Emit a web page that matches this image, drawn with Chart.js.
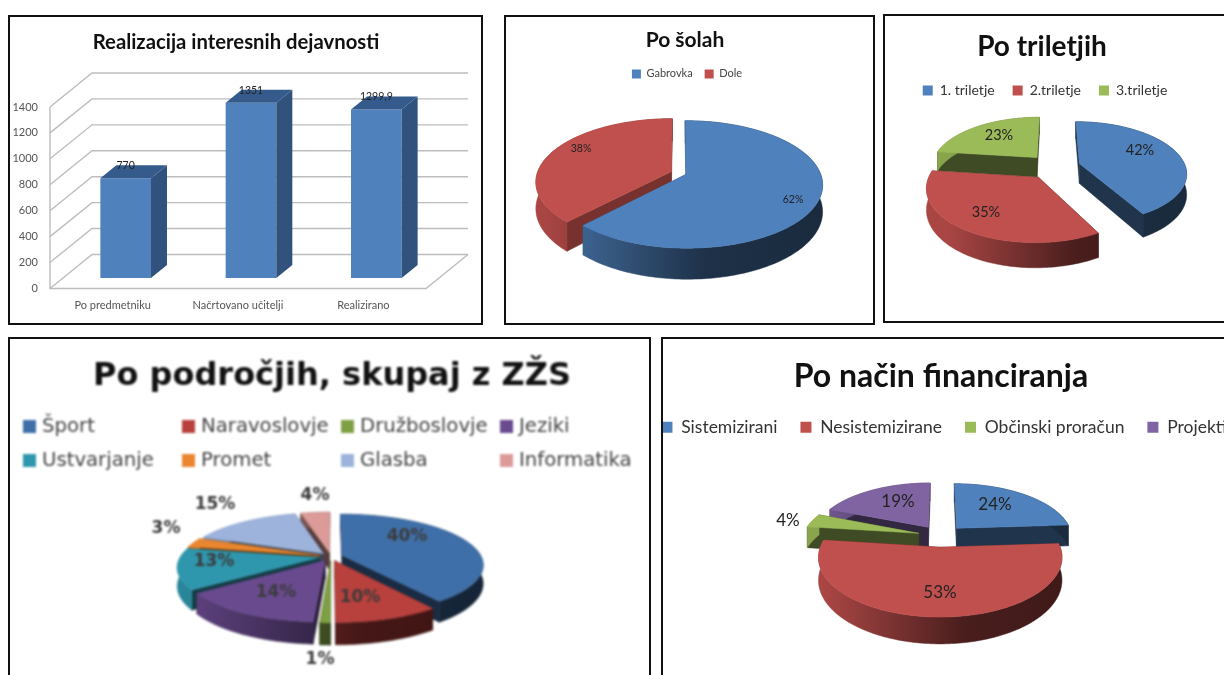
<!DOCTYPE html>
<html><head><meta charset="utf-8">
<script src="https://cdn.jsdelivr.net/npm/chart.js@4"></script>
<style>
html,body{margin:0;padding:0;background:#fff;width:1224px;height:675px;overflow:hidden}
.panel{position:absolute;overflow:visible}
.panel canvas{position:absolute;left:0;top:0}
.frame{position:absolute;box-sizing:border-box;border:2px solid #111;background:transparent;pointer-events:none}
</style></head><body>
<script>
// ---------- data ----------
const barCategories = ['Po predmetniku', 'Načrtovano učitelji', 'Realizirano'];
const barValues = [770, 1351, 1299.9];
const barTicks = [0, 200, 400, 600, 800, 1000, 1200, 1400];

const schoolLabels = ['Gabrovka', 'Dole'];
const schoolValues = [62, 38];

const termLabels = ['1. triletje', '2.triletje', '3.triletje'];
const termValues = [42, 35, 23];

const fieldLabels = ['Šport', 'Naravoslovje', 'Družboslovje', 'Jeziki', 'Ustvarjanje', 'Promet', 'Glasba', 'Informatika'];
const fieldValues = [40, 10, 1, 14, 13, 3, 15, 4];

const fundLabels = ['Sistemizirani', 'Nesistemizirane', 'Občinski proračun', 'Projekti'];
const fundValues = [24, 53, 4, 19];

const palette = ['#4F81BD', '#C0504D', '#9BBB59', '#8064A2', '#4BACC6', '#F79646', '#95B3D7', '#D99694'];
const palette4 = ['#3F6FA8', '#B8403D', '#7F9F45', '#6A4A8F', '#2F97AD', '#E9862F', '#9DB3DC', '#DC9A98'];

// ---------- helpers ----------
function shade(hex, k) {
  const n = parseInt(hex.slice(1), 16);
  return `rgb(${Math.round((n >> 16 & 255) * k)},${Math.round((n >> 8 & 255) * k)},${Math.round((n & 255) * k)})`;
}
function addPanel(r, blur) {
  const p = document.createElement('div');
  p.className = 'panel';
  p.style.cssText = `left:${r.x}px;top:${r.y}px;width:${r.w}px;height:${r.h}px`;
  const c = document.createElement('canvas');
  c.width = r.w; c.height = r.h;
  c.style.cssText = `width:${r.w}px;height:${r.h}px;filter:blur(${blur}px)`;
  p.appendChild(c);
  const f = document.createElement('div');
  f.className = 'frame';
  f.style.cssText = `left:0;top:0;width:${r.w}px;height:${r.h}px`;
  p.appendChild(f);
  document.body.appendChild(p);
  return c.getContext('2d');
}

// Moves the title and legend boxes to the place they take in the reference
const placeBoxes = {
  id: 'placeBoxes',
  afterLayout(chart, args, o) {
    const t = chart.titleBlock;
    if (t && o.titleCx !== undefined) {
      const w = t.right - t.left;
      t.left = o.titleCx - w / 2; t.right = o.titleCx + w / 2;
      const f = chart.options.plugins.title;
      t.top = o.titleCy - f.padding.top - f.font.size * 0.6;
    }
    const l = chart.legend;
    if (l && o.legCx !== undefined && chart.options.plugins.legend.display) {
      const w = l.right - l.left, h = l.bottom - l.top;
      l.left = o.legCx - w / 2; l.right = o.legCx + w / 2;
      const lab = chart.options.plugins.legend.labels;
      l.top = o.legCy - lab.padding - lab.font.size * 0.6;
      l.bottom = l.top + h;
    }
  }
};

// Paints the arcs computed by the pie controller in a perspective view
const pie3d = {
  id: 'pie3d',
  beforeDatasetDraw(chart, args, o) {
    const ctx = chart.ctx;
    const P = (u, v, h) => {
      const s = 1 / (1 - o.p * v);
      return [o.x0 + o.A * u * s, o.y0 + o.B * v * s + o.D * h * s];
    };
    const slices = chart.getDatasetMeta(0).data.map((arc, i) => {
      const a0 = arc.startAngle, a1 = arc.endAngle, mid = (a0 + a1) / 2;
      const e = (arc.options.offset || 0) / 100;
      const ox = e * Math.cos(mid), oy = e * Math.sin(mid);
      return { i, a0, a1, ox, oy, key: oy + Math.sin(mid) * 0.5, color: arc.options.backgroundColor };
    }).sort((a, b) => a.key - b.key);
    const poly = (pts, fill) => {
      ctx.beginPath();
      pts.forEach((p, k) => k ? ctx.lineTo(p[0], p[1]) : ctx.moveTo(p[0], p[1]));
      ctx.closePath(); ctx.fillStyle = fill; ctx.fill();
      ctx.strokeStyle = fill; ctx.lineWidth = 0.5; ctx.stroke();
    };
    slices.forEach(s => {
      const n = Math.max(4, Math.ceil((s.a1 - s.a0) / 0.02));
      const rim = h => {
        const r = [];
        for (let k = 0; k <= n; k++) {
          const t = s.a0 + (s.a1 - s.a0) * k / n;
          r.push(P(s.ox + Math.cos(t), s.oy + Math.sin(t), h));
        }
        return r;
      };
      const top = rim(0), bot = rim(1);
      const apex0 = P(s.ox, s.oy, 0), apex1 = P(s.ox, s.oy, 1);
      const cut = shade(s.color, o.cut);
      poly([apex0, top[0], bot[0], apex1], cut);
      poly([apex0, top[n], bot[n], apex1], cut);
      const g = ctx.createLinearGradient(o.x0 - o.A, 0, o.x0 + o.A, 0);
      g.addColorStop(0, shade(s.color, 0.88));
      g.addColorStop(0.6, shade(s.color, 0.38));
      g.addColorStop(1, shade(s.color, 0.33));
      poly(top.concat(bot.slice().reverse()), g);
      poly([apex0].concat(top), s.color);
    });
    ctx.textAlign = 'center'; ctx.textBaseline = 'middle';
    ctx.font = o.labelFont; ctx.fillStyle = o.labelColor;
    chart.data.datasets[0].data.forEach((v, i) => {
      ctx.fillText(v + '%', o.labelXY[i][0], o.labelXY[i][1]);
    });
    return false;
  }
};

// Two-row legend with aligned columns
const gridLegend = {
  id: 'gridLegend',
  afterDraw(chart, args, o) {
    if (!o.cols) return;
    const ctx = chart.ctx;
    ctx.font = o.font; ctx.textBaseline = 'middle'; ctx.textAlign = 'left';
    chart.data.labels.forEach((t, i) => {
      const x = o.cols[i % o.cols.length], y = o.rows[Math.floor(i / o.cols.length)];
      ctx.fillStyle = chart.data.datasets[0].backgroundColor[i];
      ctx.fillRect(x, y - o.box / 2, o.box, o.box);
      ctx.fillStyle = o.color;
      ctx.fillText(t, x + o.box + o.gap, y);
    });
  }
};

// 3D walls, grid and bar faces around the library's bars
const bar3d = {
  id: 'bar3d',
  beforeDatasetsDraw(chart, args, o) {
    const { ctx, chartArea: a } = chart, sy = chart.scales.y;
    ctx.save();
    ctx.strokeStyle = '#bdbdbd'; ctx.lineWidth = 1.4;
    ctx.beginPath();
    barTicks.forEach(v => {
      const y = sy.getPixelForValue(v);
      ctx.moveTo(a.left, y); ctx.lineTo(a.left + o.wx, y + o.wy); ctx.lineTo(a.right + o.wx, y + o.wy);
    });
    ctx.moveTo(a.left, a.top); ctx.lineTo(a.left, a.bottom); ctx.lineTo(a.right, a.bottom);
    ctx.lineTo(a.right + o.wx, a.bottom + o.wy);
    ctx.stroke();
    ctx.restore();
  },
  beforeDatasetDraw(chart, args, o) {
    chart.ctx.save();
    chart.ctx.translate(o.tx, o.ty);
  },
  afterDatasetDraw(chart, args, o) {
    const ctx = chart.ctx;
    chart.getDatasetMeta(0).data.forEach((b, i) => {
      const r = b.x + b.width / 2, l = b.x - b.width / 2;
      ctx.fillStyle = o.side;
      ctx.beginPath(); ctx.moveTo(r, b.y); ctx.lineTo(r + o.bx, b.y + o.by); ctx.lineTo(r + o.bx, b.base + o.by); ctx.lineTo(r, b.base); ctx.closePath(); ctx.fill();
      ctx.fillStyle = o.top;
      ctx.beginPath(); ctx.moveTo(l, b.y); ctx.lineTo(l + o.bx, b.y + o.by); ctx.lineTo(r + o.bx, b.y + o.by); ctx.lineTo(r, b.y); ctx.closePath(); ctx.fill();
      ctx.fillStyle = '#222'; ctx.font = '10.5px Lato'; ctx.textAlign = 'center'; ctx.textBaseline = 'middle';
      ctx.fillText(String(barValues[i]).replace('.', ','), b.x, b.y - 12.5);
    });
    ctx.restore();
  }
};

Chart.defaults.animation = false;
Chart.defaults.responsive = false;
Chart.defaults.devicePixelRatio = 1;

// ---------- chart 1: bars ----------
const R1 = { x: 8, y: 15, w: 475, h: 310 };
new Chart(addPanel(R1, 0.5), {
  type: 'bar',
  data: { labels: barCategories, datasets: [{ data: barValues, backgroundColor: palette[0], categoryPercentage: 1, barPercentage: 0.404 }] },
  plugins: [placeBoxes, bar3d],
  options: {
    layout: { padding: { left: 0, right: 57, top: 0, bottom: 0 } },
    plugins: {
      legend: { display: false }, tooltip: { enabled: false },
      title: { display: true, text: 'Realizacija interesnih dejavnosti', color: '#111', font: { family: 'Lato', size: 20.3, weight: 'bold' }, padding: { top: 14, bottom: 53.6 } },
      placeBoxes: { titleCx: 236 - R1.x, titleCy: 42 - R1.y },
      bar3d: { wx: 42, wy: -34, tx: 13, ty: -10.5, bx: 16, by: -13, side: '#30527D', top: '#345B8C' }
    },
    scales: {
      x: { grid: { display: false }, border: { display: false }, afterFit: s => { s.height = 36.5; }, ticks: { padding: 2, maxRotation: 0, color: '#555', font: { family: 'Lato', size: 11 } } },
      y: { min: 0, max: 1400, grid: { display: false }, border: { display: false }, afterFit: s => { s.width = 42; }, ticks: { stepSize: 200, padding: 4, color: '#555', font: { family: 'Lato', size: 11 }, callback: v => String(v) } }
    }
  }
});

// ---------- pies ----------
function pie(R, blur, labels, values, colors, explode, title, leg, geo) {
  const plug = [placeBoxes, pie3d];
  new Chart(addPanel(R, blur), {
    type: 'pie',
    data: { labels, datasets: [{ data: values, backgroundColor: colors, borderWidth: 0, offset: explode }] },
    plugins: plug.concat(leg.cols ? [gridLegend] : []),
    options: {
      plugins: {
        tooltip: { enabled: false },
        title: { display: true, text: title.text, color: '#111', font: title.font, padding: { top: 0, bottom: 0 } },
        legend: leg.cols ? { display: false } : { display: true, position: 'top', labels: { boxWidth: leg.box, boxHeight: leg.box, padding: leg.padding, color: leg.color, font: leg.font } },
        placeBoxes: { titleCx: title.cx - R.x, titleCy: title.cy - R.y, legCx: leg.cx === undefined ? undefined : leg.cx - R.x, legCy: leg.cx === undefined ? undefined : leg.cy - R.y },
        gridLegend: leg.cols ? leg : {},
        pie3d: Object.assign({}, geo, { x0: geo.x0 - R.x, y0: geo.y0 - R.y, labelXY: geo.labelXY.map(p => [p[0] - R.x, p[1] - R.y]) })
      }
    }
  });
}

const R2 = { x: 504, y: 15, w: 371, h: 310 };
pie(R2, 0.45, schoolLabels, schoolValues, palette.slice(0, 2), [6, 6],
  { text: 'Po šolah', cx: 685, cy: 40.5, font: { family: 'Lato', size: 21, weight: 'bold' } },
  { cx: 687, cy: 75, box: 9, padding: 12, color: '#444', font: { family: 'Lato', size: 11 } },
  { x0: 678.7, y0: 173, A: 134, B: 61.7, p: 0.158, D: 26, cut: 0.62, labelFont: '10.5px Lato', labelColor: '#222', labelXY: [[793, 200], [581, 149]] });

const R3 = { x: 883, y: 14, w: 400, h: 309 };
pie(R3, 0.4, termLabels, termValues, palette.slice(0, 3), [25, 25, 25],
  { text: 'Po triletjih', cx: 1042, cy: 47, font: { family: 'Lato', size: 28, weight: 'bold' } },
  { cx: 1045, cy: 92, box: 10, padding: 18, color: '#333', font: { family: 'Lato', size: 14 } },
  { x0: 1054, y0: 166.7, A: 106, B: 50, p: 0.17, D: 20, cut: 0.4, labelFont: '14.5px Lato', labelColor: '#222', labelXY: [[1140, 150], [986, 212], [999, 135]] });

const R4 = { x: 8, y: 337, w: 643, h: 343 };
pie(R4, 1, fieldLabels, fieldValues, palette4, [8.5, 8.5, 8.5, 8.5, 8.5, 8.5, 8.5, 8.5],
  { text: 'Po področjih, skupaj z ZŽS', cx: 332, cy: 377, font: { family: 'DejaVu Sans', size: 32, weight: 'bold' } },
  { cols: [23 - R4.x, 182 - R4.x, 341 - R4.x, 500 - R4.x], rows: [426.5 - R4.y, 460.5 - R4.y], box: 13, gap: 6, color: '#444', font: '19.7px "DejaVu Sans"' },
  { x0: 331, y0: 556.7, A: 139, B: 49, p: 0.18, D: 18, cut: 0.4, labelFont: 'bold 17px "DejaVu Sans"', labelColor: '#3b3b3b', labelXY: [[407, 537], [360, 598], [320, 660], [276, 593], [214, 562], [166, 529], [215, 505], [315, 496]] });

const R5 = { x: 661, y: 337, w: 680, h: 343 };
pie(R5, 0.4, fundLabels, fundValues, palette.slice(0, 4), [20, 20, 20, 20],
  { text: 'Po način financiranja', cx: 941, cy: 377, font: { family: 'Lato', size: 32, weight: 'bold' } },
  { cx: 944, cy: 429, box: 11, padding: 23, color: '#333', font: { family: 'Lato', size: 17.5 } },
  { x0: 941, y0: 536, A: 116, B: 54.2, p: 0.165, D: 21.5, cut: 0.4, labelFont: '17px Lato', labelColor: '#222', labelXY: [[995, 505], [940, 593], [788, 521], [898, 502]] });
</script>
</body></html>
